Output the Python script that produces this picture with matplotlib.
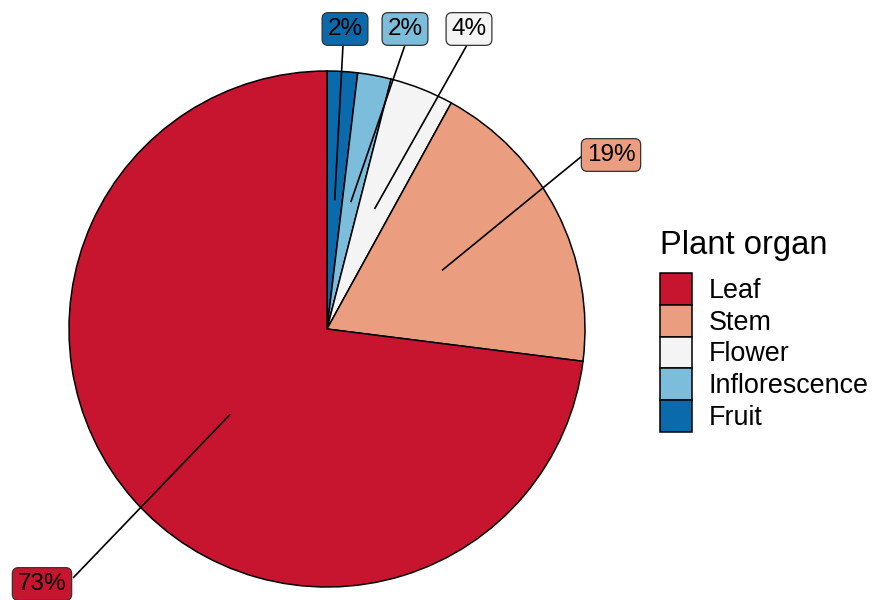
import numpy as np
import matplotlib
matplotlib.use("Agg")
import matplotlib.pyplot as plt

plt.rcParams["font.family"] = ["Liberation Sans", "DejaVu Sans"]

# data, clockwise from 12 o'clock
organs = ["Fruit", "Inflorescence", "Flower", "Stem", "Leaf"]
shares = [1.9, 2.1, 4.0, 19.0, 73.0]
labels = ["2%", "2%", "4%", "19%", "73%"]
colors = ["#0A6AAB", "#7CBDDC", "#F4F4F4", "#EA9D7F", "#C8152F"]
legend_order = ["Leaf", "Stem", "Flower", "Inflorescence", "Fruit"]

W, H = 877, 600
fig = plt.figure(figsize=(W / 100, H / 100), dpi=100)
ax = fig.add_axes([0, 0, 1, 1])


def px(x, y):
    # pixel (top-left origin) -> data
    return x, H - y


cx, cy = px(327, 329)
R = 258

wedges, _ = ax.pie(shares, colors=colors, startangle=90, counterclock=False,
                   center=(cx, cy), radius=R,
                   wedgeprops=dict(edgecolor="black", linewidth=1.1))

# label box centres and where the leader line meets the box (pixels)
box_pos = [(345, 29), (405, 29), (469, 29), (611, 155), (42, 584)]
line_end = [(343, 45), (405, 45), (467, 45), (582, 156), (73, 578)]

total = sum(shares)
cum = np.cumsum([0] + shares)
for i, lab in enumerate(labels):
    mid = (cum[i] + cum[i + 1]) / 2 / total * 2 * np.pi
    sx = cx + 0.5 * R * np.sin(mid)
    sy = cy + 0.5 * R * np.cos(mid)
    ex, ey = px(*line_end[i])
    ax.plot([sx, ex], [sy, ey], color="black", lw=1.2, solid_capstyle="butt")
    bx, by = px(*box_pos[i])
    ax.text(bx, by, lab, ha="center", va="center", fontsize=17.5, color="black",
            bbox=dict(boxstyle="round,pad=0.22,rounding_size=0.25",
                      fc=colors[i], ec="#333333", lw=0.9))

ax.set_xlim(0, W)
ax.set_ylim(0, H)
ax.set_aspect("equal")
ax.axis("off")

handles = [wedges[organs.index(o)] for o in legend_order]
leg = fig.legend(handles, legend_order, title="Plant organ",
                 loc="upper left", bbox_to_anchor=(641 / W, 1 - 211 / H),
                 frameon=False, fontsize=19.4, title_fontsize=23.6,
                 handlelength=1.18, handleheight=1.43, labelspacing=0.0,
                 handletextpad=0.62, borderpad=0.2)
leg._legend_box.align = "left"
leg._legend_box.sep = 9

fig.savefig("out.png", dpi=100)
